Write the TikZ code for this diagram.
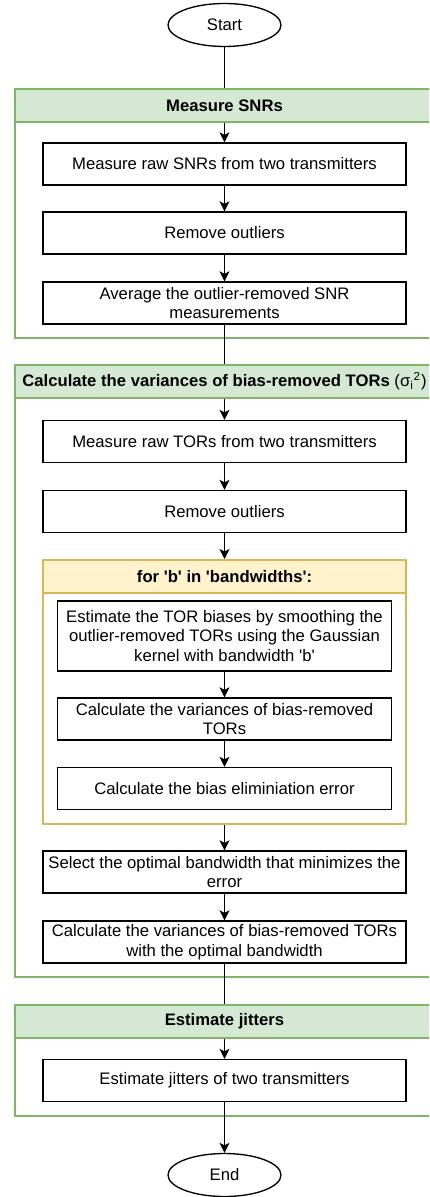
\documentclass[tikz,border=0pt]{standalone}
\usepackage{fontspec}
\setmainfont{Liberation Sans}
\usepackage{tikz}
\usetikzlibrary{arrows.meta,shapes.geometric}

\begin{document}
\begin{tikzpicture}[x=0.6pt,y=-0.6pt,
    font=\fontsize{10pt}{11.8pt}\selectfont,
    box/.style={draw,line width=0.8pt,fill=white,minimum width=217.8pt,minimum height=25.2pt,align=center,inner sep=0pt},
    ibox/.style={box,minimum width=200.4pt},
    term/.style={draw,ellipse,line width=0.8pt,minimum width=67.8pt,minimum height=25.8pt,inner sep=0pt},
    frame/.style={draw=greenb,line width=1.2pt,minimum width=251.4pt,anchor=north,inner sep=0pt},
    head/.style={frame,fill=greena,minimum height=19.8pt,font=\fontsize{10pt}{11.8pt}\selectfont\bfseries},
    arr/.style={-{Stealth[length=6pt,width=6pt,inset=1.5pt]},line width=0.8pt}]
    \definecolor{greena}{HTML}{D5E8D4}
    \definecolor{greenb}{HTML}{82B366}
    \definecolor{yellowa}{HTML}{FFF2CC}
    \definecolor{yellowb}{HTML}{D6B656}
    \clip (0,0) rectangle (429,1197);

    \node[term] (start) at (224.5,25) {Start};
    % measure SNRs
    \node[frame,minimum height=149.4pt] (snr) at (224.5,88) {};
    \node[head] (snrh) at (224.5,88) {Measure SNRs};
    \node[box] (s1) at (224.5,164) {Measure raw SNRs from two transmitters};
    \node[box] (s2) at (224.5,233) {Remove outliers};
    \node[box] (s3) at (224.5,303) {Average the outlier-removed SNR\\measurements};
    % variances of TORs
    \node[frame,minimum height=367.2pt] (tor) at (224.5,364) {};
    \node[head] (torh) at (224.5,364) {Calculate the variances of bias-removed TORs {\mdseries(σ\textsubscript{i}\textsuperscript{2})}};
    \node[box] (t1) at (224.5,441.5) {Measure raw TORs from two transmitters};
    \node[box] (t2) at (224.5,511.5) {Remove outliers};
    % loop over bandwidths
    \node[frame,draw=yellowb,minimum width=217.8pt,minimum height=158.4pt] (bw) at (224.5,559) {};
    \node[head,draw=yellowb,fill=yellowa,minimum width=217.8pt] (bwh) at (224.5,559) {for \textquotesingle b\textquotesingle{} in \textquotesingle bandwidths\textquotesingle:};
    \node[ibox,minimum height=42pt] (k1) at (224.5,636) {Estimate the TOR biases by smoothing the\\outlier-removed TORs using the Gaussian\\kernel with bandwidth \textquotesingle b\textquotesingle};
    \node[ibox] (k2) at (224.5,719) {Calculate the variances of bias-removed\\TORs};
    \node[ibox] (k3) at (224.5,788.5) {Calculate the bias eliminiation error};
    \node[box] (o1) at (224.5,872) {Select the optimal bandwidth that minimizes the\\error};
    \node[box] (o2) at (224.5,942) {Calculate the variances of bias-removed TORs\\with the optimal bandwidth};
    % jitters
    \node[frame,minimum height=66.6pt] (jit) at (224.5,1004) {};
    \node[head] (jith) at (224.5,1004) {Estimate jitters};
    \node[box] (j1) at (224.5,1080.5) {Estimate jitters of two transmitters};
    \node[term] (end) at (224.5,1175) {End};

    % connectors
    \draw[line width=0.8pt] (start) -- (snr.north);
    \draw[arr] (snrh) -- (s1);
    \draw[arr] (s1) -- (s2);
    \draw[arr] (s2) -- (s3);
    \draw[line width=0.8pt] (s3) -- (tor.north);
    \draw[arr] (torh) -- (t1);
    \draw[arr] (t1) -- (t2);
    \draw[arr] (t2) -- (bw.north);
    \draw[arr] (k1) -- (k2);
    \draw[arr] (k2) -- (k3);
    \draw[arr] (bw.south) -- (o1);
    \draw[arr] (o1) -- (o2);
    \draw[line width=0.8pt] (o2) -- (jit.north);
    \draw[arr] (jith) -- (j1);
    \draw[arr] (j1) -- (end);
\end{tikzpicture}
\end{document}
